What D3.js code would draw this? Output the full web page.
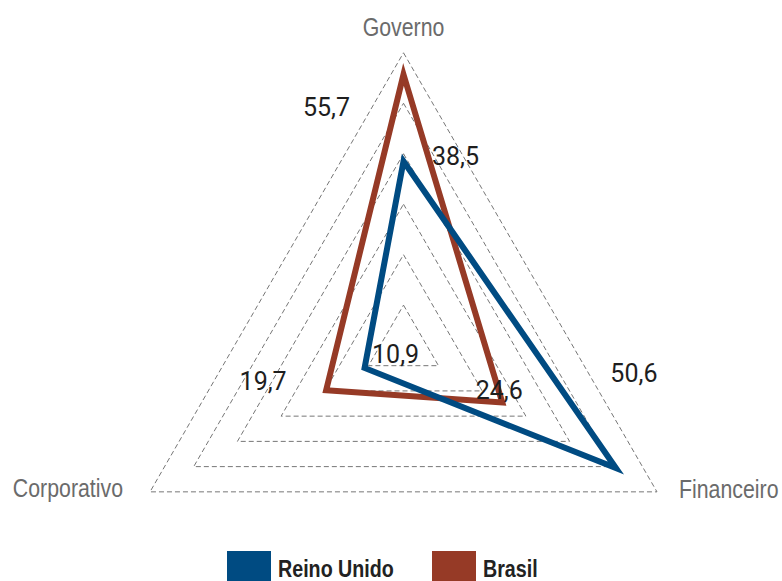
<!DOCTYPE html>
<html>
<head>
<meta charset="utf-8">
<script src="https://cdn.jsdelivr.net/npm/d3@7"></script>
<style>
  html, body { margin: 0; padding: 0; background: #ffffff; }
  svg { display: block; }
</style>
</head>
<body>
<svg id="chart" width="782" height="581"></svg>
<script>
// Radar data
const categories = ["Governo", "Financeiro", "Corporativo"];
const seriesNames = ["Reino Unido", "Brasil"];
const reinoUnido = [38.5, 50.6, 10.9];
const brasil = [55.7, 24.6, 19.7];
const gridTicks = [10, 20, 30, 40, 50, 60];
const colors = { "Reino Unido": "#004b82", "Brasil": "#963a26" };

// Label placement offsets (dx, dy from each point), per series and axis
const labelOffsetsRU = [[52, 4], [18, -86], [31, -5]];
const labelOffsetsBR = [[-77, 41], [-3, -4], [-63, 0]];

const svg = d3.select("#chart");
const cx = 403.5, cy = 345.5, R = 292.7;
const narrow = 0.82; // horizontal squeeze for the condensed look

const r = d3.scaleLinear().domain([2, 60]).range([0, R]);
const angle = d3.scalePoint().domain(categories).range([0, 4 * Math.PI / 3]);

const pt = (cat, v) => {
  const a = angle(cat);
  return [cx + r(v) * Math.sin(a), cy - r(v) * Math.cos(a)];
};

const radial = d3.lineRadial()
  .angle(d => angle(d.cat))
  .radius(d => r(d.v))
  .curve(d3.curveLinearClosed);

const gridLayer = svg.append("g").attr("transform", `translate(${cx},${cy})`);
const brLayer = svg.append("g").attr("transform", `translate(${cx},${cy})`);
const labelLayer = svg.append("g");
const ruLayer = svg.append("g").attr("transform", `translate(${cx},${cy})`);

// Dashed grid triangles
gridLayer.selectAll("path")
  .data(gridTicks)
  .join("path")
  .attr("d", t => radial(categories.map(c => ({ cat: c, v: t }))))
  .attr("fill", "none")
  .attr("stroke", "#767676")
  .attr("stroke-width", 1)
  .attr("stroke-dasharray", "5,3");

// Category labels around the outer triangle
const sansFont = "'Liberation Sans', Arial, sans-serif";
const outer = gridTicks[gridTicks.length - 1];
const catLabelPos = {
  "Governo": { dx: 0, dy: -17, anchor: "middle" },
  "Financeiro": { dx: 22, dy: 6, anchor: "start" },
  "Corporativo": { dx: -27, dy: 5, anchor: "end" }
};
svg.selectAll("text.cat")
  .data(categories)
  .join("text")
  .attr("class", "cat")
  .attr("transform", c => {
    const p = pt(c, outer);
    return `translate(${p[0] + catLabelPos[c].dx},${p[1] + catLabelPos[c].dy}) scale(${narrow},1)`;
  })
  .attr("text-anchor", c => catLabelPos[c].anchor)
  .attr("font-family", sansFont)
  .attr("font-size", 26)
  .attr("fill", "#6b6b6b")
  .text(c => c);

const series = {
  "Reino Unido": { values: reinoUnido, offsets: labelOffsetsRU, layer: ruLayer },
  "Brasil": { values: brasil, offsets: labelOffsetsBR, layer: brLayer }
};

seriesNames.forEach(name => {
  const s = series[name];
  s.layer.append("path")
    .attr("d", radial(categories.map((c, i) => ({ cat: c, v: s.values[i] }))))
    .attr("fill", "none")
    .attr("stroke", colors[name])
    .attr("stroke-width", 6)
    .attr("stroke-linejoin", "miter")
    .attr("stroke-miterlimit", 10);

  const fmt = v => d3.format(".1f")(v).replace(".", ",");
  labelLayer.selectAll(null)
    .data(categories)
    .join("text")
    .attr("x", (c, i) => pt(c, s.values[i])[0] + s.offsets[i][0])
    .attr("y", (c, i) => pt(c, s.values[i])[1] + s.offsets[i][1])
    .attr("text-anchor", "middle")
    .attr("font-family", "Roboto, sans-serif")
    .attr("font-size", 25)
    .attr("fill", "#1e1e1e")
    .text((c, i) => fmt(s.values[i]));
});

// Legend
const legendX = d3.scaleOrdinal().domain(seriesNames).range([227, 432]);
const items = svg.append("g").selectAll("g")
  .data(seriesNames)
  .join("g")
  .attr("transform", d => `translate(${legendX(d)},551)`);
items.append("rect")
  .attr("width", 44).attr("height", 32)
  .attr("fill", d => colors[d]);
items.append("text")
  .attr("transform", `translate(51,26) scale(${narrow},1)`)
  .attr("font-family", sansFont)
  .attr("font-weight", "bold")
  .attr("font-size", 24)
  .attr("fill", "#222")
  .text(d => d);
</script>
</body>
</html>
